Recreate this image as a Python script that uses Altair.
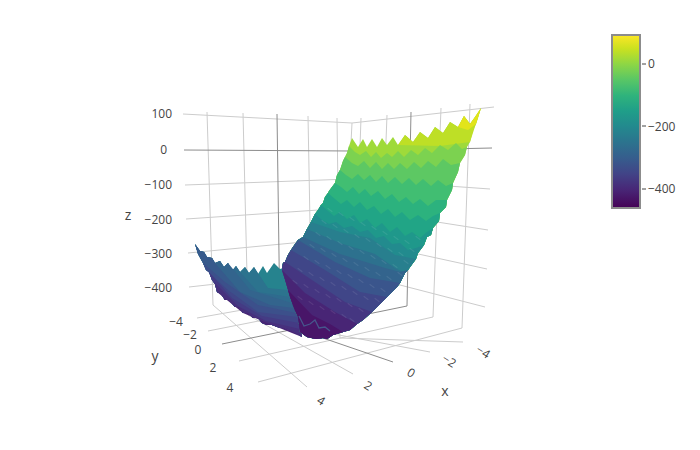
import altair as alt
import pandas as pd

# ---------- axes furniture, in picture coordinates ----------
grid_lines = [
    [(183,114),(352,123),(494,107)],
    [(185,185),(350,179),(490,189)],
    [(186,219),(348,208),(488,230)],
    [(188,253),(345,238),(487,269)],
    [(189,287),(342,270),(485,307)],
    [(207,112),(213,305)], [(243,113),(248,315)], [(308,116),(312,330)], [(337,118),(340,338)],
    [(352,123),(343,300)],
    [(470,104),(462,328)], [(441,108),(433,317)], [(387,115),(380,297)], [(361,118),(355,290)],
    [(213,305),(307,387)], [(248,315),(353,374)], [(312,330),(430,352)], [(340,338),(463,342)],
    [(197,318),(355,290)], [(208,331),(380,297)], [(239,361),(433,317)], [(258,382),(462,328)],
]
zero_lines = [
    [(184,150),(352,151),(492,148)],
    [(277,114),(280,325)],
    [(411,112),(407,306)],
    [(279,323),(393,362)],
    [(222,344),(407,306)],
]
cbar_tick_lines = [[(642,64),(646,64)], [(642,126),(646,126)], [(642,189),(646,189)]]

# ---------- surface: silhouette pieces ----------
wing_top = [(195,244),(200,251),(204,252),(207,257),(212,258),(215,263),(220,261),(224,267),(228,263),
            (232,271),(236,266),(240,272),(245,267),(249,273),(254,267),(258,274),(263,266),(267,273),
            (274,263),(280,269),(283,268)]
wing_bottom = [(195,244),(198,254),(203,263),(206,270),(209,272),(212,280),(215,284),(217,292),(221,294),
               (225,300),(229,300),(235,307),(239,307),(243,313),(248,313),(253,318),(258,318),(262,323),
               (267,325),(272,325),(280,328),(285,328),(290,330),(296,333),(302,337)]
fold = [(282,270),(286,283),(288,290),(290,297),(292,303),(294,308),(296,313),(298,317),(299,323),(300,329),(302,337)]

wall_ridge = [(352,138),(358,147),(363,139),(367,147),(372,139),(377,147),(382,138),(387,145),(393,137),
              (398,145),(405,135),(413,142),(420,132),(428,138),(435,127),(443,133),(450,122),(458,127),
              (464,116),(470,124),(475,117),(481,108)]
wall_left = [(352,138),(349,146),(347,153),(345,157),(343,161),(340,170),(337,175),(335,183),(332,187),(329,191),
             (328,193),(325,197),(323,203),(321,205),(318,210),(315,214),(313,218),(311,222),(307,229),(303,237),
             (298,240),(293,247),(291,250),(288,255),(285,262),(283,263),(282,270),(286,283),(288,290),(290,297),
             (294,308),(298,317),(300,332)]
wall_right = [(481,108),(478,118),(476,124),(473,130),(470,142),(467,147),(465,155),(460,163),(458,172),
              (453,183),(452,190),(447,200),(446,207),(440,213),(439,221),(433,228),(431,235),(427,237),
              (424,245),(418,253),(416,259),(413,263),(408,270),(405,273),(400,283),(397,287),(393,291),
              (387,297),(383,301),(377,307),(372,312),(363,320),(357,324),(350,330),(343,332),(333,335),
              (327,339),(323,338),(316,339),(307,337),(300,332)]

# ---------- surface: level curves (value, curve) ----------
wall_levels = [
    (-15, [(349,146),(355,152),(360,155),(366,151),(371,157),(376,152),(381,158),(387,153),(392,157),(398,151),
           (404,157),(411,150),(418,155),(425,148),(432,153),(440,145),(448,150),(456,143),(462,149),(467,147)]),
    (-45, [(345,157),(352,163),(358,166),(364,161),(370,168),(376,162),(382,169),(388,163),(394,169),(400,163),
           (407,169),(414,162),(421,168),(428,161),(436,167),(443,159),(451,165),(460,163)]),
    (-75, [(340,170),(346,175),(352,179),(358,174),(364,180),(370,175),(376,182),(382,176),(388,183),(395,177),
           (402,184),(409,178),(416,185),(423,179),(431,186),(438,180),(446,186),(453,183)]),
    (-105,[(335,183),(341,187),(347,192),(353,187),(359,194),(365,189),(371,196),(378,191),(385,199),(392,194),
           (399,202),(406,197),(413,204),(420,199),(428,206),(436,200),(447,200)]),
    (-135,[(328,193),(335,199),(341,204),(347,200),(354,207),(360,202),(367,210),(374,206),(381,214),(388,209),
           (395,217),(402,212),(410,220),(418,215),(426,221),(433,216),(440,213)]),
    (-165,[(321,205),(328,211),(334,216),(340,212),(347,219),(354,215),(360,223),(367,219),(375,228),(382,223),
           (390,232),(397,227),(405,236),(412,232),(420,238),(427,232),(433,228)]),
    (-195,[(315,214),(322,220),(329,224),(336,222),(344,228),(352,226),(360,232),(368,230),(376,238),(384,236),
           (392,244),(400,243),(408,250),(416,248),(424,245)]),
    (-225,[(311,222),(340,232),(370,238),(395,255),(416,259)]),
    (-255,[(307,229),(340,243),(375,254),(395,268),(405,273)]),
    (-285,[(303,237),(340,254),(385,268),(400,272),(408,270)]),
    (-315,[(298,240),(335,262),(370,278),(400,283)]),
    (-345,[(291,250),(325,270),(360,292),(387,297)]),
    (-375,[(285,262),(315,282),(345,302),(372,312)]),
    (-405,[(282,270),(305,293),(335,312),(357,324)]),
    (-430,[(288,290),(312,315),(330,324),(343,332)]),
]
wing_levels = [
    (-250,[(254,267),(268,288),(288,290)]),
    (-268,[(240,272),(258,292),(290,297)]),
    (-285,[(228,263),(250,290),(292,303)]),
    (-305,[(215,263),(240,292),(270,305),(294,308)]),
    (-325,[(203,263),(225,282),(258,305),(296,313)]),
    (-345,[(206,270),(228,290),(258,312),(298,317)]),
    (-365,[(209,272),(232,298),(262,316),(299,323)]),
    (-385,[(212,280),(238,306),(266,321),(300,329)]),
    (-405,[(217,292),(243,313),(272,325),(302,337)]),
]
wing_top_value = -215
wall_top_value = 15
wall_upper = [
    (40, [(398,145),(405,135),(413,142),(420,132),(428,138),(435,127),(443,133),(450,122),(458,127),
          (464,116),(470,124),(475,117),(481,108),(470,142),(440,146)]),
    (70, [(458,127),(464,116),(470,124),(475,117),(481,108),(476,124),(468,130)]),
]

# pale dashes of the ripples on the lower wall
ripple_x = [330,341,352,363,374,385,396,407,418, 324,335,346,357,368,379,390,401,412,
            318,329,340,351,362,373,384,395,406, 312,323,334,345,356,367,378,389,400,
            306,317,328,339,350,361,372,383, 300,311,322,333,344,355,366,377,
            295,306,317,328,339,350,361, 300,311,322,333,344,352]
ripple_y = [210,214,219,224,228,233,238,242,238, 222,226,231,236,240,245,250,254,250,
            234,238,243,248,252,257,262,266,262, 246,250,255,260,264,269,274,278,274,
            258,262,267,272,276,281,286,290, 270,274,279,284,288,293,298,300,
            282,286,291,296,300,305,310, 298,303,308,312,316,320]
front_ripple = [[(299,316),(304,326),(310,324),(315,320),(319,328),(325,327),(330,331)]]

cbar_ticks = [0,-200,-400]
cbar_x = [626,627]
cbar_x2 = [627,628]
cbar_y = [100,120]
cbar_y2 = [101,121]
cbar_z = [-460,94]

z_labels = [("100",172,114),("0",167,150),("\u2212100",172,185),("\u2212200",172,220),("\u2212300",172,254),("\u2212400",172,288)]
y_labels = [("\u22124",176,322),("\u22122",190,335),("0",198,350),("2",213,368),("4",230,388)]
x_labels = [("4",321,401),("2",368,386),("0",411,373),("\u22122",449,361),("\u22124",483,352)]
titles = [("z",128,216),("y",155,357),("x",445,392)]

# ---------- tables ----------
def lines_table(lines):
    rows = []
    for k, pts in enumerate(lines):
        for i, (x, y) in enumerate(pts):
            rows.append(dict(line=k, i=i, x=x, y=y))
    return pd.DataFrame(rows)

polys = []
polys.append((wing_top_value, wing_top + fold[1:] + wing_bottom[::-1]))
for v, c in wing_levels:
    x0, y0 = c[0]; y1 = c[-1][1]
    tail = [p for p in fold if p[1] > y1]
    if (x0, y0) in wing_top:
        back = wing_bottom[::-1] + [p for p in wing_top if p[0] < x0]
    else:
        back = [p for p in wing_bottom[::-1] if p[0] > x0]
    polys.append((v, c + tail + back))
polys.append((wall_top_value, wall_ridge + wall_right[1:] + wall_left[::-1][1:]))
for v, c in wall_upper:
    polys.append((v, c))
for v, c in wall_levels:
    y0, y1 = c[0][1], c[-1][1]
    k = next(j for j, p in enumerate(wall_right) if p[1] > y1)
    m = next(j for j, p in enumerate(wall_left) if p[1] > y0)
    polys.append((v, c + wall_right[k:] + wall_left[m:][::-1]))

rows = []
for n, (v, pts) in enumerate(polys):
    for i, (x, y) in enumerate(pts):
        rows.append(dict(poly=n, i=i, x=x, y=y, z=v))
surface = pd.DataFrame(rows)

xs = alt.Scale(domain=[8,692], nice=False, zero=False)
ys = alt.Scale(domain=[442,8], nice=False, zero=False)
X = alt.X("x:Q", scale=xs, axis=None)
Y = alt.Y("y:Q", scale=ys, axis=None)

grid = alt.Chart(lines_table(grid_lines)).mark_line(color="#cccccc", strokeWidth=1).encode(X, Y, detail="line:N", order="i:Q")
zero = alt.Chart(lines_table(zero_lines)).mark_line(color="#8c8c8c", strokeWidth=1).encode(X, Y, detail="line:N", order="i:Q")
ticks = alt.Chart(lines_table(cbar_tick_lines)).mark_line(color="#444444", strokeWidth=1).encode(X, Y, detail="line:N", order="i:Q")

z_scale = alt.Scale(scheme="viridis", domain=[-460,94], nice=False, zero=False)
# two 1px swatches hidden under the colour bar: this rect layer gives the gradient legend
bar = alt.Chart(pd.DataFrame({"x": cbar_x, "x2": cbar_x2, "y": cbar_y, "y2": cbar_y2, "z": cbar_z})).mark_rect().encode(
    X, alt.X2("x2:Q"), Y, alt.Y2("y2:Q"),
    fill=alt.Fill("z:Q", scale=z_scale, legend=alt.Legend(
        type="gradient", orient="none", legendX=604, legendY=27, title=None, values=cbar_ticks,
        gradientLength=173, gradientThickness=28, gradientStrokeColor="#8c8c8c", gradientStrokeWidth=2,
        labelFont="Open Sans", labelFontSize=12, labelColor="#444444", labelOffset=8)),
)
surf = alt.Chart(surface).mark_line(strokeWidth=0).encode(
    X, Y, detail="poly:N", order="i:Q",
    fill=alt.Fill("z:Q", scale=z_scale, legend=None),
)
ripples = alt.Chart(pd.DataFrame({"x": ripple_x, "y": ripple_y})).mark_point(
    shape="M-1,-0.7L1,0.7", size=22, filled=False, stroke="#ffffff", strokeWidth=1.2, strokeOpacity=0.13
).encode(X, Y)
front = alt.Chart(lines_table(front_ripple)).mark_line(color="#46568c", strokeWidth=1.3).encode(X, Y, detail="line:N", order="i:Q")

def text_layer(items, align="center", size=12, angle=0):
    df = pd.DataFrame(items, columns=["t","x","y"])
    return alt.Chart(df).mark_text(font="Open Sans", fontSize=size, color="#444444", align=align,
                                   baseline="middle", angle=angle).encode(X, Y, text="t:N")

chart = alt.layer(
    bar, grid, zero, surf, ripples, front, ticks,
    text_layer(z_labels, align="right"),
    text_layer(y_labels),
    text_layer(x_labels, angle=32),
    text_layer(titles, size=14),
).resolve_scale(fill="independent").properties(
    width=684, height=434, padding=0, autosize=alt.AutoSizeParams(type="none")
).configure_view(stroke=None)

chart.save("out.html", embed_options={"renderer": "svg", "actions": False})
